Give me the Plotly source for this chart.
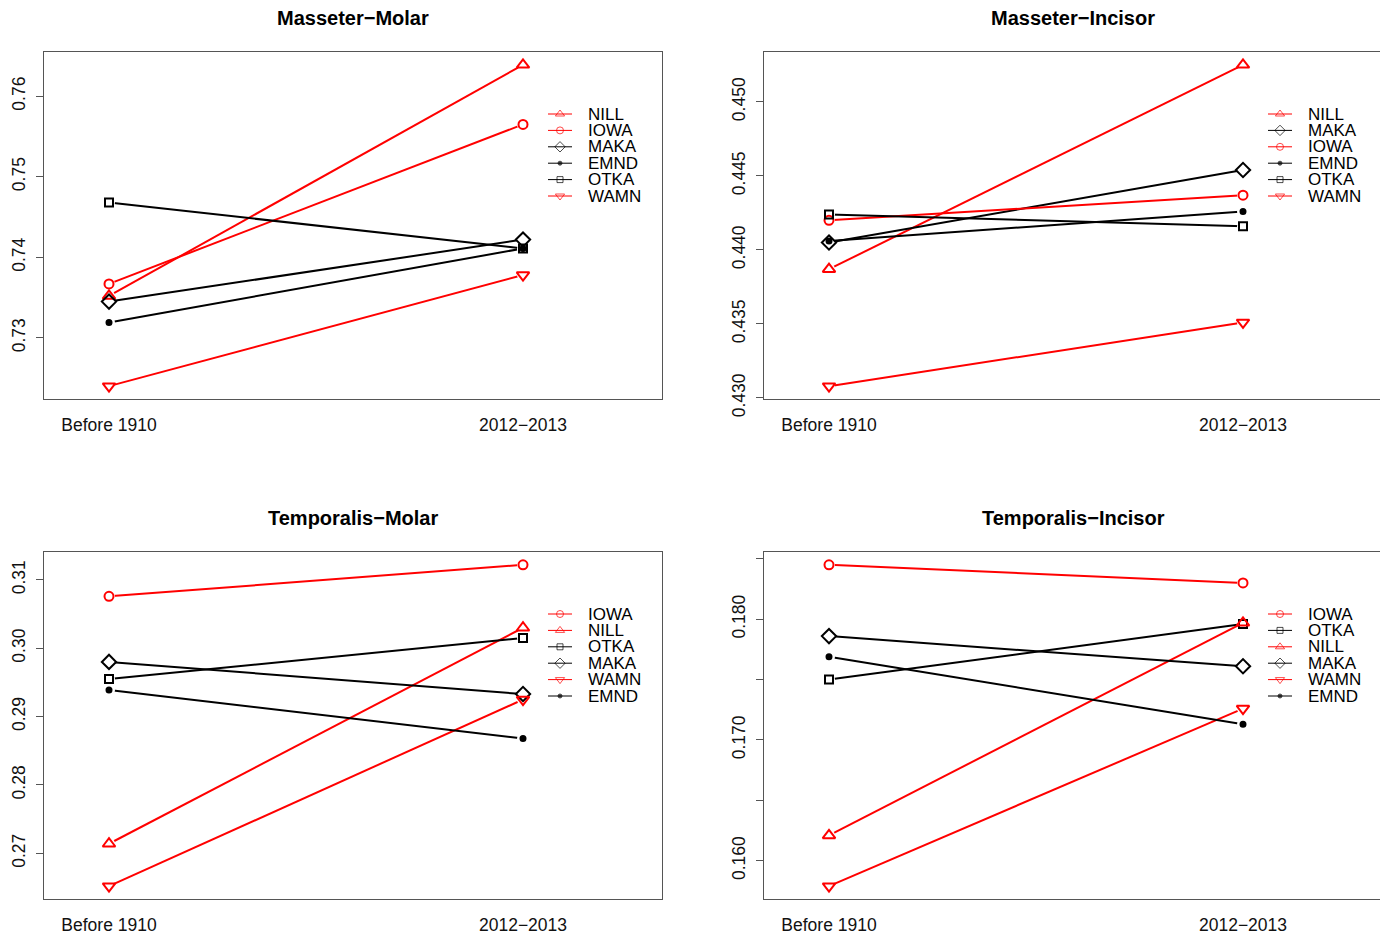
import plotly.graph_objects as go

# ---------------- data ----------------
periods = ["Before 1910", "2012\u22122013"]

mm_order = ["NILL", "IOWA", "MAKA", "EMND", "OTKA", "WAMN"]
mm_before = [0.7352, 0.7367, 0.7345, 0.7319, 0.7468, 0.7240]
mm_after = [0.7639, 0.7565, 0.7422, 0.7411, 0.7411, 0.7378]

mi_order = ["NILL", "MAKA", "IOWA", "EMND", "OTKA", "WAMN"]
mi_before = [0.4387, 0.4405, 0.4420, 0.4406, 0.4424, 0.4308]
mi_after = [0.4525, 0.4454, 0.4437, 0.4426, 0.4416, 0.4351]

tm_order = ["IOWA", "NILL", "OTKA", "MAKA", "WAMN", "EMND"]
tm_before = [0.3076, 0.2714, 0.2955, 0.2980, 0.2652, 0.2939]
tm_after = [0.3122, 0.3030, 0.3015, 0.2933, 0.2925, 0.2868]

ti_order = ["IOWA", "OTKA", "NILL", "MAKA", "WAMN", "EMND"]
ti_before = [0.1845, 0.1750, 0.1621, 0.1786, 0.1579, 0.1769]
ti_after = [0.1830, 0.1796, 0.1797, 0.1761, 0.1726, 0.1713]

mm_ticks = [0.73, 0.74, 0.75, 0.76]
mm_ticktext = ["0.73", "0.74", "0.75", "0.76"]
mi_ticks = [0.430, 0.435, 0.440, 0.445, 0.450]
mi_ticktext = ["0.430", "0.435", "0.440", "0.445", "0.450"]
tm_ticks = [0.27, 0.28, 0.29, 0.30, 0.31]
tm_ticktext = ["0.27", "0.28", "0.29", "0.30", "0.31"]
ti_ticks = [0.160, 0.165, 0.170, 0.175, 0.180, 0.185]
ti_ticktext = ["0.160", "", "0.170", "", "0.180", ""]

# ---------------- styles ----------------
RED = "#FF0000"
BLACK = "#000000"
style = {
    "NILL": dict(color=RED, symbol="triangle-up-open", size=11, lsize=8),
    "IOWA": dict(color=RED, symbol="circle-open", size=9, lsize=7),
    "MAKA": dict(color=BLACK, symbol="diamond-open", size=11, lsize=8),
    "EMND": dict(color=BLACK, symbol="circle", size=5, lsize=4),
    "OTKA": dict(color=BLACK, symbol="square-open", size=8, lsize=6),
    "WAMN": dict(color=RED, symbol="triangle-down-open", size=11, lsize=8),
}

W, H = 1380, 934
FONT = "Liberation Sans, Arial, Helvetica, sans-serif"
AXCOL = "#555555"

panels = [
    dict(title="Masseter\u2212Molar", order=mm_order, before=mm_before, after=mm_after,
         tv=mm_ticks, tt=mm_ticktext, ox=0, oy=0),
    dict(title="Masseter\u2212Incisor", order=mi_order, before=mi_before, after=mi_after,
         tv=mi_ticks, tt=mi_ticktext, ox=720, oy=0),
    dict(title="Temporalis\u2212Molar", order=tm_order, before=tm_before, after=tm_after,
         tv=tm_ticks, tt=tm_ticktext, ox=0, oy=500),
    dict(title="Temporalis\u2212Incisor", order=ti_order, before=ti_before, after=ti_after,
         tv=ti_ticks, tt=ti_ticktext, ox=720, oy=500),
]

fig = go.Figure()
layout = dict(
    width=W, height=H, autosize=False, margin=dict(l=0, r=0, t=0, b=0, pad=0),
    paper_bgcolor="white", plot_bgcolor="rgba(0,0,0,0)",
    showlegend=False, font=dict(family=FONT, size=17, color="#111111"),
)
annotations = []
xpos = [1, 2]

for k, p in enumerate(panels):
    n = k + 1
    xa = "x" if n == 1 else f"x{n}"
    ya = "y" if n == 1 else f"y{n}"
    left = 44 + p["ox"]
    right = min(662 + p["ox"], W)
    top = 52 + p["oy"]
    bottom = 399 + p["oy"]
    ppu = 414.0
    xr0 = 1 - (109 + p["ox"] - left) / ppu
    xr1 = 2 + (right - (523 + p["ox"])) / ppu
    allv = p["before"] + p["after"]
    lo, hi = min(allv), max(allv)
    pad = 0.04 * (hi - lo)

    clipped = (662 + p["ox"]) > W
    layout["xaxis" if n == 1 else f"xaxis{n}"] = dict(
        domain=[left / W, right / W], range=[xr0, xr1], anchor=ya, automargin=False,
        tickvals=xpos, ticktext=periods, ticks="", showgrid=False, zeroline=False,
        showline=True, mirror=True, linecolor=AXCOL, linewidth=1.3,
        tickfont=dict(size=17.5, color="#111111"), ticklabelstandoff=10, fixedrange=True,
    )
    layout["yaxis" if n == 1 else f"yaxis{n}"] = dict(
        domain=[1 - bottom / H, 1 - top / H], range=[lo - pad, hi + pad], anchor=xa,
        automargin=False,
        tickvals=p["tv"], ticktext=p["tt"], ticks="outside", ticklen=7, tickwidth=1.3,
        tickcolor=AXCOL, tickangle=-90, showgrid=False, zeroline=False,
        showline=True, mirror=(not clipped), linecolor=AXCOL, linewidth=1.3,
        tickfont=dict(size=17.5, color="#111111"), ticklabelstandoff=4, fixedrange=True,
    )

    # lines + white halos (type="b" gaps)
    for i, name in enumerate(p["order"]):
        s = style[name]
        yv = [p["before"][i], p["after"][i]]
        fig.add_trace(go.Scatter(x=xpos, y=yv, xaxis=xa, yaxis=ya, mode="lines",
                                 line=dict(color=s["color"], width=2), hoverinfo="skip"))
        fig.add_trace(go.Scatter(x=xpos, y=yv, xaxis=xa, yaxis=ya, mode="markers",
                                 marker=dict(symbol="circle", size=12, color="white",
                                             line=dict(width=0)), hoverinfo="skip"))
    for i, name in enumerate(p["order"]):
        s = style[name]
        yv = [p["before"][i], p["after"][i]]
        fig.add_trace(go.Scatter(x=xpos, y=yv, xaxis=xa, yaxis=ya, mode="markers",
                                 name=name,
                                 marker=dict(symbol=s["symbol"], size=s["size"], color=s["color"],
                                             line=dict(color=s["color"], width=2))))

    # title
    annotations.append(dict(
        x=(44 + 662) / 2 + p["ox"], y=18 + p["oy"], xref="x9", yref="y9",
        text=f"<b>{p['title']}</b>", showarrow=False, xanchor="center", yanchor="middle",
        font=dict(size=20, family=FONT, color="#000000")))

    # legend (no box), drawn on a pixel overlay axis
    for i, name in enumerate(p["order"]):
        s = style[name]
        ly = 114 + p["oy"] + 16.4 * i
        fig.add_trace(go.Scatter(
            x=[548 + p["ox"], 560 + p["ox"], 572 + p["ox"]], y=[ly, ly, ly],
            xaxis="x9", yaxis="y9", mode="lines+markers",
            line=dict(color=s["color"], width=1),
            marker=dict(symbol=s["symbol"], size=[0, s["lsize"], 0], color=s["color"],
                        line=dict(color=s["color"], width=1)),
            hoverinfo="skip"))
        annotations.append(dict(
            x=586 + p["ox"], y=ly, xref="x9", yref="y9", text=name, showarrow=False,
            xanchor="left", yanchor="middle", font=dict(size=17, family=FONT, color="#000000")))

layout["xaxis9"] = dict(domain=[0, 1], range=[0, W], visible=False, fixedrange=True,
                        anchor="y9", automargin=False)
layout["yaxis9"] = dict(domain=[0, 1], range=[H, 0], visible=False, fixedrange=True,
                        anchor="x9", automargin=False)
layout["annotations"] = annotations
fig.update_layout(**layout)

fig.write_html(
    "out.html",
    config={"displayModeBar": False},
    default_width=f"{W}px",
    default_height=f"{H}px",
    post_script="document.body.style.margin='0px';document.documentElement.style.overflow='hidden';",
)
